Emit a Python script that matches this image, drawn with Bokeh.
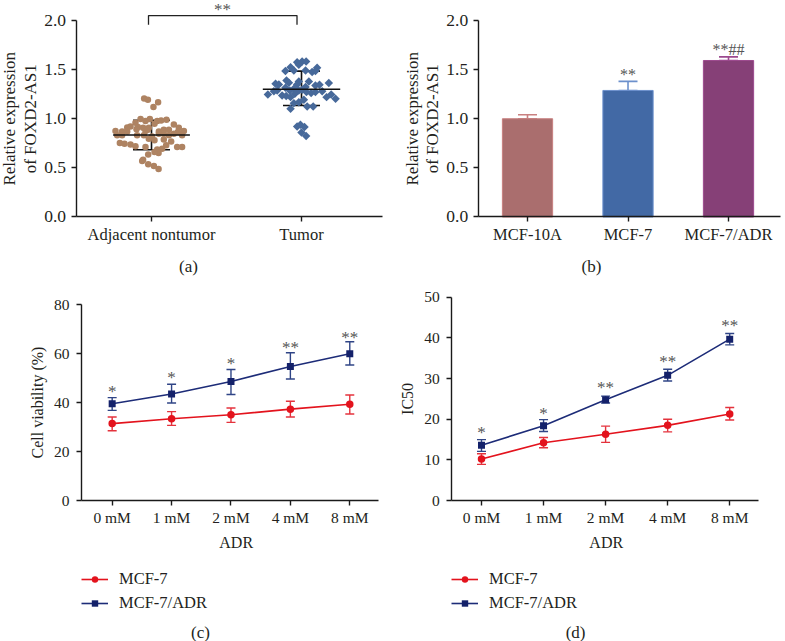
from bokeh.plotting import figure
from bokeh.layouts import column, row
from bokeh.models import (ColumnDataSource, Whisker, TeeHead, Label, Legend, LegendItem,
                          FixedTicker, Range1d)
from bokeh.core.properties import value
from bokeh.embed import file_html
from bokeh.resources import INLINE
import math

FONT = "Liberation Serif"

# Panel (a)
a_cats = ["Adjacent nontumor", "Tumor"]
a_brown_dx = [-0.049,-0.024,0.044,0.013,-0.073,-0.011,-0.107,-0.04,0.038,0.1,0.064,0.02,-0.162,-0.14,-0.091,-0.056,-0.018,0.149,0.182,0.082,0.116,0.049,-0.24,-0.196,-0.162,0.216,-0.04,-0.1,-0.024,0.176,-0.229,-0.196,-0.096,0.149,0.204,0.082,0.116,0.004,0.049,-0.051,-0.211,-0.18,-0.14,-0.107,-0.04,0.02,0.082,0.131,0.098,0.171,0.204,0.071,0.038,-0.018,-0.022,0.047,0.02,-0.056,-0.062,-0.022,0.016,0.047]
a_brown_y = [1.207,1.193,1.169,1.119,0.997,0.997,0.959,0.976,0.976,0.99,0.983,0.949,0.912,0.922,0.915,0.908,0.908,0.942,0.908,0.888,0.888,0.871,0.875,0.871,0.871,0.875,0.875,0.892,0.888,0.864,0.831,0.831,0.831,0.847,0.831,0.847,0.831,0.82,0.847,0.831,0.753,0.746,0.739,0.719,0.712,0.78,0.79,0.769,0.729,0.712,0.712,0.695,0.688,0.797,0.637,0.651,0.661,0.583,0.569,0.536,0.519,0.488]
a_blue_dx = [-0.029,0.004,0.031,-0.018,-0.073,0.104,-0.107,-0.051,0.071,0.093,0.027,-0.1,-0.084,-0.173,-0.151,-0.018,0.049,-0.029,0.093,0.12,0.182,0.027,-0.184,-0.162,-0.224,-0.107,-0.051,-0.018,0.004,-0.078,-0.129,-0.102,-0.073,-0.044,0.064,0.093,0.138,0.167,0.198,0.227,0.016,-0.051,-0.018,-0.073,0.038,0.078,0.033,-0.029,-0.007,0.02,0.0,0.031]
a_blue_y = [1.576,1.583,1.583,1.549,1.525,1.519,1.485,1.492,1.475,1.485,1.492,1.39,1.366,1.356,1.349,1.38,1.38,1.349,1.339,1.346,1.363,1.322,1.281,1.288,1.247,1.315,1.305,1.288,1.295,1.288,1.237,1.231,1.22,1.254,1.261,1.271,1.281,1.22,1.247,1.203,1.193,1.159,1.169,1.102,1.125,1.125,1.271,0.922,0.939,0.915,0.861,0.824]
a_mean = [0.835, 1.30]
a_upper = [0.985, 1.485]
a_lower = [0.685, 1.135]

# Panel (b)
b_cats = ["MCF-10A", "MCF-7", "MCF-7/ADR"]
b_vals = [1.0, 1.288, 1.593]
b_err = [1.04, 1.38, 1.63]
b_colors = ["#aa6e6e", "#4269a5", "#864077"]
b_edge = ["#c98080", "#6c90cc", "#9c4a8e"]
b_stars = ["", "**", "**##"]
b_star_y = [1.1, 1.455, 1.705]

expr_ticks = [0.0, 0.5, 1.0, 1.5, 2.0]

# Panels (c), (d)
doses = ["0 mM", "1 mM", "2 mM", "4 mM", "8 mM"]
c_red = [31.4, 33.4, 35.0, 37.3, 39.3]
c_red_up = [34.1, 36.3, 37.8, 40.5, 43.1]
c_red_lo = [28.5, 30.7, 31.9, 34.1, 35.3]
c_blue = [39.5, 43.5, 48.6, 54.7, 59.9]
c_blue_up = [42.0, 47.5, 53.5, 60.3, 64.8]
c_blue_lo = [36.8, 39.8, 43.3, 49.6, 55.3]
c_stars = ["*", "*", "*", "**", "**"]
c_star_y = [44.7, 50.1, 56.1, 62.3, 66.7]
c_ticks = [0, 20, 40, 60, 80]

d_red = [10.2, 14.2, 16.3, 18.5, 21.3]
d_red_up = [11.5, 15.5, 18.3, 20.0, 22.9]
d_red_lo = [8.9, 13.0, 14.3, 16.9, 19.8]
d_blue = [13.6, 18.4, 24.8, 30.8, 39.7]
d_blue_up = [15.0, 19.9, 25.7, 32.3, 41.1]
d_blue_lo = [12.1, 17.0, 24.0, 29.4, 38.3]
d_stars = ["*", "*", "**", "**", "**"]
d_star_y = [16.8, 21.5, 27.7, 34.3, 43.0]
d_ticks = [0, 10, 20, 30, 40, 50]


def base(w, h, xr, yr, ax_x, ax_end, xticks, xlabels, yticks, ylabels, tick_font, ytick_font, xstandoff, ystandoff=5):
    p = figure(width=w, height=h, x_range=Range1d(*xr), y_range=Range1d(*yr),
               output_backend="svg", toolbar_location=None,
               min_border_left=0, min_border_right=0, min_border_top=0, min_border_bottom=0)
    p.grid.visible = False
    p.outline_line_color = None
    for ax in (p.xaxis[0], p.yaxis[0]):
        ax.axis_line_color = "#1a1a1a"
        ax.axis_line_width = 1.4
        ax.major_tick_line_color = "#1a1a1a"
        ax.major_tick_line_width = 1.4
        ax.major_tick_out = 5
        ax.major_tick_in = 0
        ax.minor_tick_line_color = None
        ax.major_label_text_font = FONT
        ax.major_label_text_color = "#231f20"
    p.xaxis[0].fixed_location = 0
    p.xaxis[0].bounds = (ax_x, ax_end)
    p.xaxis[0].ticker = FixedTicker(ticks=xticks)
    p.xaxis[0].major_label_overrides = dict(zip(xticks, xlabels))
    p.xaxis[0].major_label_standoff = xstandoff
    p.xaxis[0].major_label_text_font_size = tick_font
    p.yaxis[0].fixed_location = ax_x
    p.yaxis[0].bounds = (yticks[0], yticks[-1])
    p.yaxis[0].ticker = FixedTicker(ticks=yticks)
    p.yaxis[0].major_label_overrides = dict(zip(yticks, ylabels))
    p.yaxis[0].major_label_standoff = ystandoff
    p.yaxis[0].major_label_text_font_size = ytick_font
    return p


def caption(p, text, x, y, size="17px", angle=0):
    p.add_layout(Label(x=x, y=y, text=text, text_font=FONT, text_font_size=size, angle=angle,
                       text_color="#231f20", text_align="center", text_baseline="middle"))


def stars(p, xs, ys, labels, size="17px"):
    p.text(xs, ys, text=labels, text_font=value(FONT), text_font_size=size,
           text_color="#555555", text_align="center", text_baseline="middle")


def whisk(p, xs, lo, up, color, size, width=1.4):
    src = ColumnDataSource(dict(x=xs, lo=lo, up=up))
    p.add_layout(Whisker(source=src, base="x", lower="lo", upper="up",
                         line_color=color, line_width=width,
                         upper_head=TeeHead(size=size, line_color=color, line_width=width),
                         lower_head=TeeHead(size=size, line_color=color, line_width=width)))


UP = math.pi / 2

# ---- (a)
pa = base(393, 283, (-0.0067, 2.6133), (-0.677, 2.2036), 0.497, 2.54, [1, 2], a_cats,
          expr_ticks, ["%.1f" % t for t in expr_ticks], "16.5px", "17.5px", 3)
pa.scatter([1 + d for d in a_brown_dx], a_brown_y, marker="circle", size=6.5,
           fill_color="#ae8362", line_color=None)
pa.scatter([2 + d for d in a_blue_dx], a_blue_y, marker="square", size=6, angle=math.pi / 4,
           fill_color="#47699a", line_color=None)
whisk(pa, [1, 2], a_lower, a_upper, "#111111", 37, 1.6)
pa.segment([0.744, 1.742], a_mean, [1.256, 2.258], a_mean, line_color="#111111", line_width=1.6)
pa.line([0.98, 0.98, 1.97, 1.97], [1.956, 2.05, 2.05, 1.956], line_color="#222222", line_width=1.3)
stars(pa, [1.473], [2.115], ["**"])
caption(pa, "Relative expression", 0.053, 1.0, "17px", UP)
caption(pa, "of FOXD2-AS1", 0.193, 1.0, "17px", UP)
caption(pa, "(a)", 1.247, -0.504)

# ---- (b)
bx = [1, 2, 3]
pb = base(392, 283, (-0.3333, 3.567), (-0.677, 2.2036), 0.509, 3.517, bx, b_cats,
          expr_ticks, ["%.1f" % t for t in expr_ticks], "16.5px", "17.5px", 3)
for i in range(3):
    whisk(pb, [bx[i]], [b_vals[i]], [b_err[i]], b_edge[i], 19, 1.6)
pb.vbar(bx, width=0.5, top=b_vals, fill_color=b_colors, line_color=b_edge, line_width=1)
stars(pb, bx, b_star_y, b_stars, "16px")
caption(pb, "Relative expression", -0.148, 1.0, "17px", UP)
caption(pb, "of FOXD2-AS1", 0.052, 1.0, "17px", UP)
caption(pb, "(b)", 1.637, -0.504)


def line_panel(w, xr, yr, ax_x, ax_end, yticks, red, rup, rlo, blue, bup, blo, slab, sy,
               ylabel, ylx, yly, adrx, adry, cap, cx, cy):
    p = base(w, 358, xr, yr, ax_x, ax_end, list(range(5)), doses,
             yticks, [str(t) for t in yticks], "15.5px", "15.5px", 3, 7)
    xs = list(range(5))
    whisk(p, xs, rlo, rup, "#e4323c", 9)
    whisk(p, xs, blo, bup, "#2f4486", 9)
    l1 = p.line(xs, red, line_color="#e3131d", line_width=1.6)
    m1 = p.scatter(xs, red, marker="circle", size=7.5, fill_color="#e3131d", line_color=None)
    l2 = p.line(xs, blue, line_color="#1d2c78", line_width=1.6)
    m2 = p.scatter(xs, blue, marker="square", size=7, fill_color="#14216a", line_color=None)
    stars(p, xs, sy, slab)
    lx = round((ax_x - xr[0]) / (xr[1] - xr[0]) * w)
    leg = Legend(items=[LegendItem(label="MCF-7", renderers=[l1, m1]),
                        LegendItem(label="MCF-7/ADR", renderers=[l2, m2])],
                 location=(lx, 28), glyph_width=27, glyph_height=16, padding=0, margin=0,
                 spacing=4, label_standoff=11, background_fill_alpha=0, border_line_color=None,
                 label_text_font=FONT, label_text_font_size="16.5px", label_text_color="#231f20")
    p.add_layout(leg)
    caption(p, ylabel, ylx, yly, "16px", UP)
    caption(p, "ADR", adrx, adry, "16px")
    caption(p, cap, cx, cy)
    return p


pc = line_panel(393, (-1.880, 4.736), (-57.55, 88.6), -0.517, 4.488, c_ticks,
                c_red, c_red_up, c_red_lo, c_blue, c_blue_up, c_blue_lo, c_stars, c_star_y,
                "Cell viability (%)", -1.263, 40, 2.088, -17, "(c)", 1.487, -53.9)
pd_ = line_panel(392, (-1.418, 4.899), (-34.68, 53.4), -0.479, 4.462, d_ticks,
                 d_red, d_red_up, d_red_lo, d_blue, d_blue_up, d_blue_lo, d_stars, d_star_y,
                 "IC50", -1.193, 25, 2.01, -10.26, "(d)", 1.516, -32.5)

root = column(row(pa, pb, spacing=0), row(pc, pd_, spacing=0), spacing=0, margin=0)
open("out.html", "w").write(file_html(root, INLINE))
